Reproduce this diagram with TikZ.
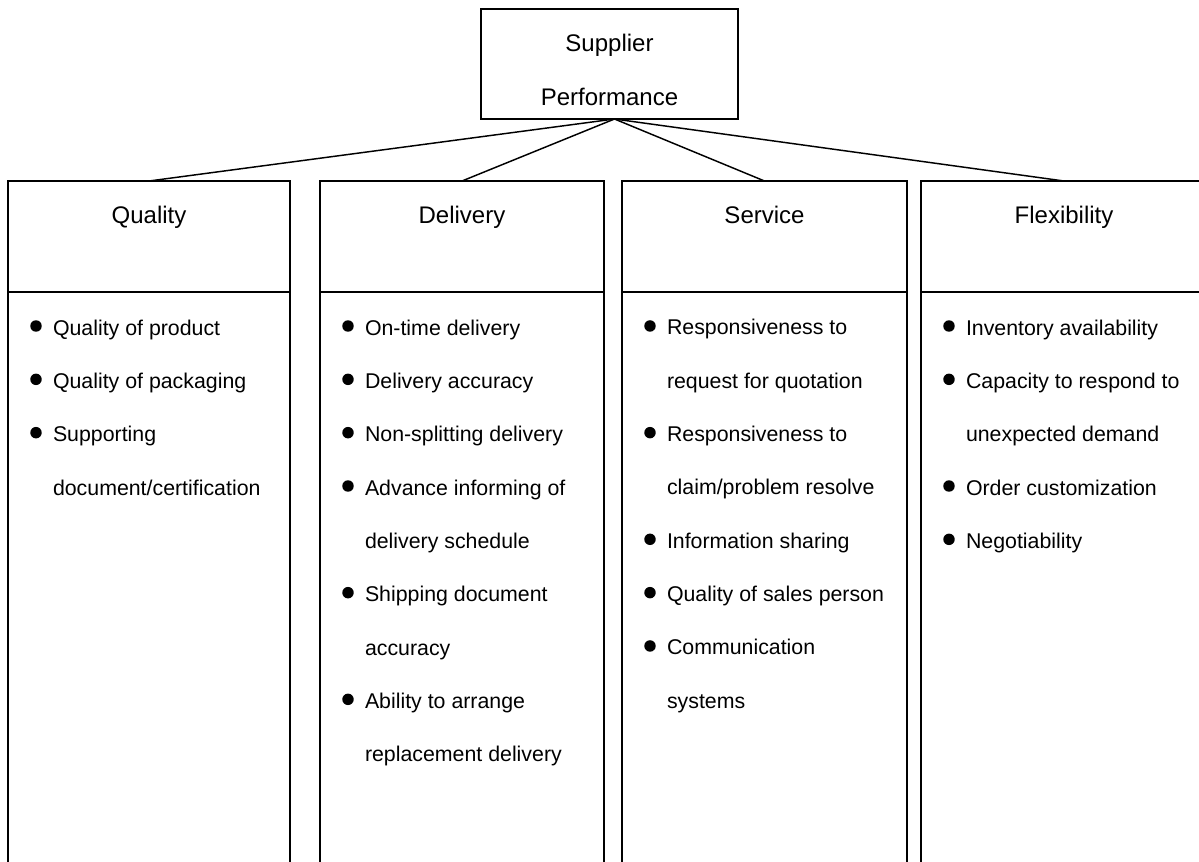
\documentclass[tikz,border=0pt]{standalone}
\usepackage{fontspec}
\setmainfont{Liberation Sans}
\usetikzlibrary{positioning,calc}

\begin{document}
\begin{tikzpicture}[x=0.75pt,y=-0.75pt]
    \tikzstyle{every node}=[inner sep=0,outer sep=0]
    \tikzstyle{box}=[draw,rectangle,line width=1.1pt]
    \tikzstyle{hbox}=[box,minimum height=83.25pt]
    \tikzstyle{body}=[box,minimum height=441pt]
    \tikzstyle{head}=[font=\fontsize{18}{40}\selectfont,align=center,anchor=base]
    \tikzstyle{item}=[font=\fontsize{16}{40}\selectfont,align=left,anchor=base west]
    \tikzstyle{dot}=[fill,circle,minimum size=8.6pt]
    \tikzstyle{link}=[line width=1.1pt]
    {
        \useasboundingbox (0,0) rectangle (1199,861);
        \clip (0,0) rectangle (1199,861);

        % root box (base of a two-line node is its last line)
        \node[box,minimum width=192.75pt,minimum height=82.5pt] (sp) at (609.5,64) {};
        \node[head] (spt) at ($(sp.north)+(0,96)$) {Supplier\\Performance};

        % the four criteria, header on top of an open column
        \node[hbox,minimum width=211.5pt] (qual) at (149,236.5) {};
        \node[hbox,minimum width=213pt] (deli) at (462,236.5) {};
        \node[hbox,minimum width=213.75pt] (serv) at (764.5,236.5) {};
        \node[hbox,minimum width=214.5pt] (flex) at (1064,236.5) {};

        \node[body,minimum width=211.5pt,below=0pt of qual] (qualb) {};
        \node[body,minimum width=213pt,below=0pt of deli] (delib) {};
        \node[body,minimum width=213.75pt,below=0pt of serv] (servb) {};
        \node[body,minimum width=214.5pt,below=0pt of flex] (flexb) {};

        \node[head] (qualt) at ($(qual.north)+(0,42)$) {Quality};
        \node[head] (delit) at ($(deli.north)+(0,42)$) {Delivery};
        \node[head] (servt) at ($(serv.north)+(0,42)$) {Service};
        \node[head] (flext) at ($(flex.north)+(0,42)$) {Flexibility};

        \draw[link] ([xshift=3.75pt]sp.south) -- (qual.north);
        \draw[link] ([xshift=3.75pt]sp.south) -- (deli.north);
        \draw[link] ([xshift=3.75pt]sp.south) -- (serv.north);
        \draw[link] ([xshift=3.75pt]sp.south) -- (flex.north);

        % quality
        \node[item] (q1) at ($(qual.south west)+(45,43)$) {Quality of product};
        \node[item,below=40pt of q1.base west,anchor=base west] (q2) {Quality of packaging};
        \node[item,below=80pt of q2.base west,anchor=base west] (q3) {Supporting\\document/certification};

        % delivery
        \node[item] (d1) at ($(deli.south west)+(45,43)$) {On-time delivery};
        \node[item,below=40pt of d1.base west,anchor=base west] (d2) {Delivery accuracy};
        \node[item,below=40pt of d2.base west,anchor=base west] (d3) {Non-splitting delivery};
        \node[item,below=80pt of d3.base west,anchor=base west] (d4) {Advance informing of\\delivery schedule};
        \node[item,below=80pt of d4.base west,anchor=base west] (d5) {Shipping document\\accuracy};
        \node[item,below=80pt of d5.base west,anchor=base west] (d6) {Ability to arrange\\replacement delivery};

        % service
        \node[item] (s1) at ($(serv.south west)+(45,96.3)$) {Responsiveness to\\request for quotation};
        \node[item,below=80pt of s1.base west,anchor=base west] (s2) {Responsiveness to\\claim/problem resolve};
        \node[item,below=40pt of s2.base west,anchor=base west] (s3) {Information sharing};
        \node[item,below=40pt of s3.base west,anchor=base west] (s4) {Quality of sales person};
        \node[item,below=80pt of s4.base west,anchor=base west] (s5) {Communication\\systems};

        % flexibility
        \node[item] (f1) at ($(flex.south west)+(45,43)$) {Inventory availability};
        \node[item,below=80pt of f1.base west,anchor=base west] (f2) {Capacity to respond to\\unexpected demand};
        \node[item,below=40pt of f2.base west,anchor=base west] (f3) {Order customization};
        \node[item,below=40pt of f3.base west,anchor=base west] (f4) {Negotiability};

        % bullets, level with the first line
        \node[dot] (q1d) at ([shift={(-12.75pt,6.75pt)}]q1.base west) {};
        \node[dot] (q2d) at ([shift={(-12.75pt,6.75pt)}]q2.base west) {};
        \node[dot] (q3d) at ([shift={(-12.75pt,46.75pt)}]q3.base west) {};
        \node[dot] (d1d) at ([shift={(-12.75pt,6.75pt)}]d1.base west) {};
        \node[dot] (d2d) at ([shift={(-12.75pt,6.75pt)}]d2.base west) {};
        \node[dot] (d3d) at ([shift={(-12.75pt,6.75pt)}]d3.base west) {};
        \node[dot] (d4d) at ([shift={(-12.75pt,46.75pt)}]d4.base west) {};
        \node[dot] (d5d) at ([shift={(-12.75pt,46.75pt)}]d5.base west) {};
        \node[dot] (d6d) at ([shift={(-12.75pt,46.75pt)}]d6.base west) {};
        \node[dot] (s1d) at ([shift={(-12.75pt,46.75pt)}]s1.base west) {};
        \node[dot] (s2d) at ([shift={(-12.75pt,46.75pt)}]s2.base west) {};
        \node[dot] (s3d) at ([shift={(-12.75pt,6.75pt)}]s3.base west) {};
        \node[dot] (s4d) at ([shift={(-12.75pt,6.75pt)}]s4.base west) {};
        \node[dot] (s5d) at ([shift={(-12.75pt,46.75pt)}]s5.base west) {};
        \node[dot] (f1d) at ([shift={(-12.75pt,6.75pt)}]f1.base west) {};
        \node[dot] (f2d) at ([shift={(-12.75pt,46.75pt)}]f2.base west) {};
        \node[dot] (f3d) at ([shift={(-12.75pt,6.75pt)}]f3.base west) {};
        \node[dot] (f4d) at ([shift={(-12.75pt,6.75pt)}]f4.base west) {};
    }
\end{tikzpicture}
\end{document}
